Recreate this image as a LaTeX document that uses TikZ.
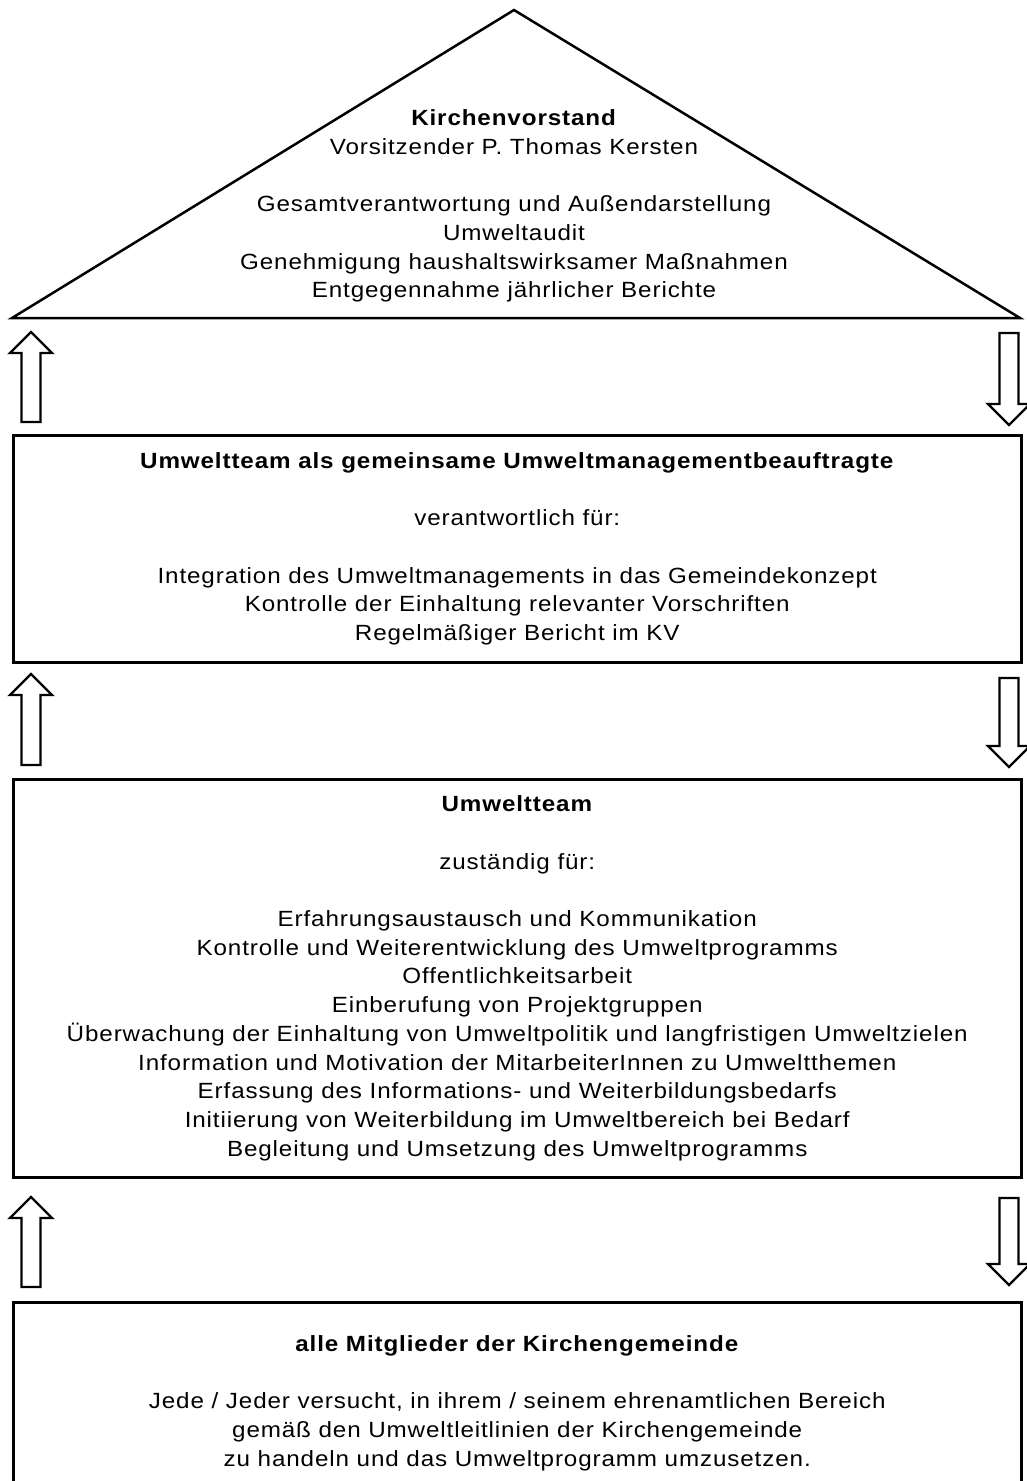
\documentclass[tikz,border=0pt]{standalone}
\usepackage{fontspec}
\setmainfont{Liberation Sans}[FakeStretch=1.1, LetterSpace=4]

\tikzset{
	box/.style={draw, line width=2.5pt, anchor=north west, minimum width=1008pt, align=center, inner sep=0pt},
	blockarrow/.style={draw, line width=2.3pt, line join=miter, fill=white}
}

%block arrows: #1 = x of the middle, #2 = y of the tip, #3 = y of the tail
\newcommand{\uparr}[3]{\draw[blockarrow] (#1,#2) -- ++(21,21) -- ++(-11.5,0) -- (#1+9.5,#3) -- (#1-9.5,#3) -- (#1-9.5,#2+21) -- ++(-11.5,0) -- cycle;}
\newcommand{\downarr}[3]{\draw[blockarrow] (#1,#2) -- ++(21,-21) -- ++(-11.5,0) -- (#1+9.5,#3) -- (#1-9.5,#3) -- (#1-9.5,#2-21) -- ++(-11.5,0) -- cycle;}

\begin{document}
\begin{tikzpicture}[x=1pt, y=-1pt, font=\fontsize{22}{28.7}\selectfont]
	\useasboundingbox (0,0) rectangle (1027,1481);

	%roof with the text of the church council
	\draw[line width=2.5pt, line join=miter] (12,318) -- (514,10) -- (1020,318) -- cycle;
	\node[align=center] (kv) at (514,206) {\textbf{Kirchenvorstand}\\ Vorsitzender P. Thomas Kersten\\[28.7pt] Gesamtverantwortung und Außendarstellung\\ Umweltaudit\\ Genehmigung haushaltswirksamer Maßnahmen\\ Entgegennahme jährlicher Berichte};

	%boxes below the roof
	\node[box, minimum height=227pt] (beauftragte) at (12,434) {\textbf{Umweltteam als gemeinsame Umweltmanagementbeauftragte}\\[28.7pt] verantwortlich für:\\[28.7pt] Integration des Umweltmanagements in das Gemeindekonzept\\ Kontrolle der Einhaltung relevanter Vorschriften\\ Regelmäßiger Bericht im KV};
	\node[box, minimum height=398pt] (team) at (12,778) {\textbf{Umweltteam}\\[28.7pt] zuständig für:\\[28.7pt] Erfahrungsaustausch und Kommunikation\\ Kontrolle und Weiterentwicklung des Umweltprogramms\\ Offentlichkeitsarbeit\\ Einberufung von Projektgruppen\\ Überwachung der Einhaltung von Umweltpolitik und langfristigen Umweltzielen\\ Information und Motivation der MitarbeiterInnen zu Umweltthemen\\ Erfassung des Informations- und Weiterbildungsbedarfs\\ Initiierung von Weiterbildung im Umweltbereich bei Bedarf\\ Begleitung und Umsetzung des Umweltprogramms};
	\node[box, minimum height=202pt] (gemeinde) at (12,1301) {\textbf{alle Mitglieder der Kirchengemeinde}\\[28.7pt] Jede / Jeder versucht, in ihrem / seinem ehrenamtlichen Bereich\\ gemäß den Umweltleitlinien der Kirchengemeinde\\ zu handeln und das Umweltprogramm umzusetzen.};

	%arrows up on the left, down on the right
	\uparr{31}{332}{422}
	\downarr{1009}{425}{333}
	\uparr{31}{674}{765}
	\downarr{1009}{767}{678}
	\uparr{31}{1197}{1287}
	\downarr{1009}{1285}{1198}
\end{tikzpicture}
\end{document}
